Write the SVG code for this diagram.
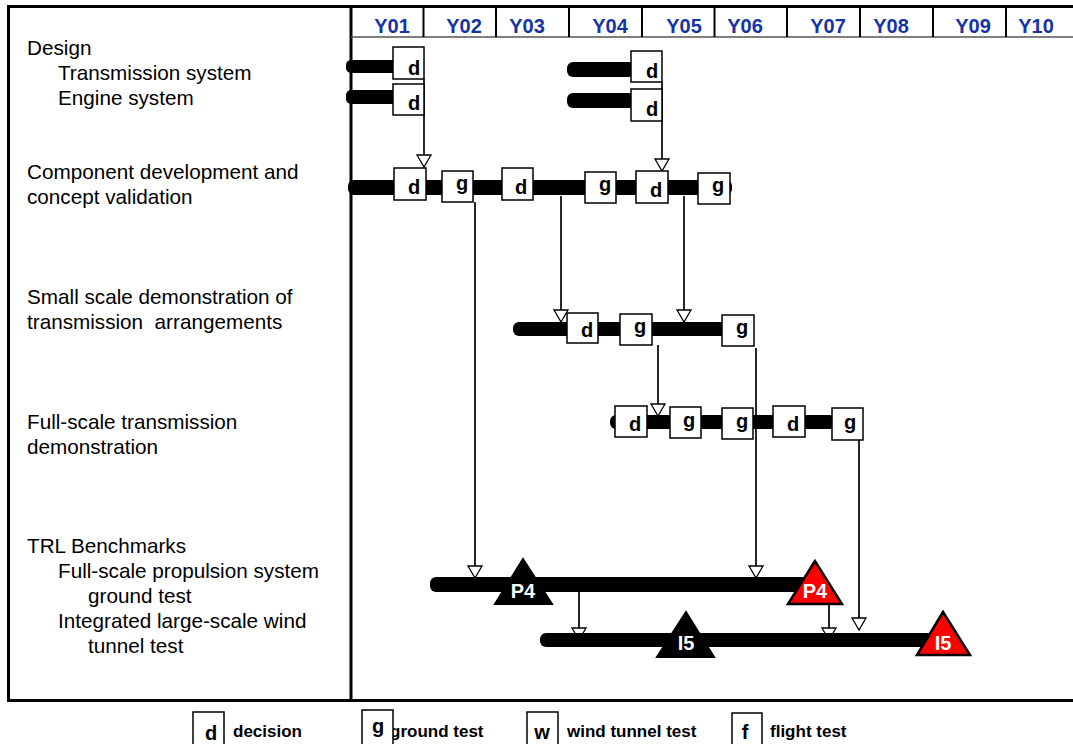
<svg xmlns="http://www.w3.org/2000/svg" width="1073" height="744" viewBox="0 0 1073 744">
<style>
.lbl{font-family:"Liberation Sans",Arial,sans-serif;font-size:20.7px;fill:#000}
.yr{font-family:"Liberation Sans",Arial,sans-serif;font-size:20px;font-weight:bold;fill:#1433a6;text-anchor:middle}
.bx{fill:#fff;stroke:#000;stroke-width:1.5}
.bt{font-family:"Liberation Sans",Arial,sans-serif;font-size:20px;font-weight:bold;fill:#000;text-anchor:middle}
.bar{fill:#000}
.cn{stroke:#000;stroke-width:1.7;fill:none;marker-end:url(#arr)}
.tri{fill:#000;stroke:#000;stroke-width:2}
.tred{fill:#ff0000;stroke:#000;stroke-width:2.5;stroke-linejoin:miter}
.tt{font-family:"Liberation Sans",Arial,sans-serif;font-size:20px;font-weight:bold;fill:#fff;text-anchor:middle}
.lg{font-family:"Liberation Sans",Arial,sans-serif;font-size:17px;font-weight:bold;fill:#000}
</style>
<defs>
<marker id="arr" viewBox="0 0 14 16" markerWidth="14" markerHeight="16" refX="13" refY="8" orient="auto" markerUnits="userSpaceOnUse">
<path d="M1,1 L13,8 L1,15 Z" fill="#fff" stroke="#000" stroke-width="1.3"/>
</marker>
</defs>
<rect width="1073" height="744" fill="#fff"/>
<g id="frame">
<path d="M1073,6.5 H8.5 V700.5 H1073" fill="none" stroke="#000" stroke-width="3"/>
<line x1="351" y1="6" x2="351" y2="701" stroke="#000" stroke-width="3"/>
<line x1="351" y1="37" x2="1073" y2="37" stroke="#555" stroke-width="1.5"/>
<g stroke="#000" stroke-width="2">
<line x1="423.5" y1="6" x2="423.5" y2="37"/>
<line x1="496" y1="6" x2="496" y2="37"/>
<line x1="569" y1="6" x2="569" y2="37"/>
<line x1="642" y1="6" x2="642" y2="37"/>
<line x1="714.5" y1="6" x2="714.5" y2="37"/>
<line x1="787" y1="6" x2="787" y2="37"/>
<line x1="860" y1="6" x2="860" y2="37"/>
<line x1="933" y1="6" x2="933" y2="37"/>
<line x1="1006" y1="6" x2="1006" y2="37"/>
</g>
</g>
<g id="years">
<text class="yr" x="392" y="33">Y01</text>
<text class="yr" x="464" y="33">Y02</text>
<text class="yr" x="527" y="33">Y03</text>
<text class="yr" x="610" y="33">Y04</text>
<text class="yr" x="684" y="33">Y05</text>
<text class="yr" x="745" y="33">Y06</text>
<text class="yr" x="828" y="33">Y07</text>
<text class="yr" x="891" y="33">Y08</text>
<text class="yr" x="973" y="33">Y09</text>
<text class="yr" x="1036" y="33">Y10</text>
</g>
<g id="labels">
<text class="lbl" x="27" y="55">Design</text>
<text class="lbl" x="58" y="80">Transmission system</text>
<text class="lbl" x="58" y="105">Engine system</text>
<text class="lbl" x="27" y="179">Component development and</text>
<text class="lbl" x="27" y="204">concept validation</text>
<text class="lbl" x="27" y="304">Small scale demonstration of</text>
<text class="lbl" x="27" y="329" xml:space="preserve">transmission  arrangements</text>
<text class="lbl" x="27" y="429">Full-scale transmission</text>
<text class="lbl" x="27" y="454">demonstration</text>
<text class="lbl" x="27" y="553">TRL Benchmarks</text>
<text class="lbl" x="58" y="578">Full-scale propulsion system</text>
<text class="lbl" x="88" y="603">ground test</text>
<text class="lbl" x="58" y="628">Integrated large-scale wind</text>
<text class="lbl" x="88" y="653">tunnel test</text>
</g>
<g id="connectors">
<path class="cn" d="M424,79 V167"/>
<path class="cn" d="M662,82 V171"/>
<path class="cn" d="M475,202 V578"/>
<path class="cn" d="M561,196 V322"/>
<path class="cn" d="M684,196 V322"/>
<path class="cn" d="M658,345 V416"/>
<path class="cn" d="M756,348 V578"/>
<path class="cn" d="M859,440 V630"/>
<path class="cn" d="M579,592 V640"/>
<path class="cn" d="M829,604 V640"/>
</g>
<g id="design-transmission">
<rect class="bar" x="346" y="60" width="52" height="13" rx="5"/>
<rect class="bx" x="393" y="47" width="31" height="32"/>
<text class="bt" x="414" y="75">d</text>
</g>
<g id="design-engine">
<rect class="bar" x="346" y="90" width="52" height="14" rx="5"/>
<rect class="bx" x="393" y="84" width="31" height="31"/>
<text class="bt" x="414" y="110">d</text>
</g>
<g id="design-transmission-2">
<rect class="bar" x="567" y="62" width="68" height="15" rx="6"/>
<rect class="bx" x="631" y="51" width="31" height="31"/>
<text class="bt" x="652" y="78">d</text>
</g>
<g id="design-engine-2">
<rect class="bar" x="567" y="93" width="68" height="15" rx="6"/>
<rect class="bx" x="631" y="89" width="31" height="32"/>
<text class="bt" x="652" y="116">d</text>
</g>
<g id="component-row">
<rect class="bar" x="348" y="180" width="384" height="15" rx="6"/>
<rect class="bx" x="394" y="168" width="32" height="32"/>
<text class="bt" x="414" y="194">d</text>
<rect class="bx" x="442" y="171" width="31" height="31"/>
<text class="bt" x="462" y="190">g</text>
<rect class="bx" x="502" y="168" width="31" height="32"/>
<text class="bt" x="521" y="194">d</text>
<rect class="bx" x="585" y="172" width="31" height="31"/>
<text class="bt" x="605" y="191">g</text>
<rect class="bx" x="636" y="171" width="32" height="32"/>
<text class="bt" x="656" y="197">d</text>
<rect class="bx" x="698" y="173" width="32" height="31"/>
<text class="bt" x="718" y="192">g</text>
</g>
<g id="small-scale-row">
<rect class="bar" x="513" y="322" width="222" height="14" rx="6"/>
<rect class="bx" x="567" y="313" width="31" height="30"/>
<text class="bt" x="587" y="337">d</text>
<rect class="bx" x="620" y="314" width="32" height="31"/>
<text class="bt" x="640" y="333">g</text>
<rect class="bx" x="722" y="315" width="32" height="31"/>
<text class="bt" x="742" y="334">g</text>
</g>
<g id="full-scale-row">
<rect class="bar" x="610" y="415" width="250" height="14" rx="6"/>
<rect class="bx" x="615" y="406" width="32" height="31"/>
<text class="bt" x="635" y="431">d</text>
<rect class="bx" x="670" y="407" width="31" height="31"/>
<text class="bt" x="689" y="427">g</text>
<rect class="bx" x="722" y="408" width="31" height="31"/>
<text class="bt" x="742" y="428">g</text>
<rect class="bx" x="773" y="406" width="32" height="31"/>
<text class="bt" x="793" y="431">d</text>
<rect class="bx" x="832" y="408" width="31" height="32"/>
<text class="bt" x="850" y="429">g</text>
</g>
<g id="p4-row">
<rect class="bar" x="430" y="577" width="378" height="15" rx="6"/>
<polygon class="tri" points="523,559 495,604 552,604"/>
<text class="tt" x="523" y="598">P4</text>
<polygon class="tred" points="815,561 788,604 842,604"/>
<text class="tt" x="815" y="598">P4</text>
</g>
<g id="i5-row">
<rect class="bar" x="540" y="633" width="395" height="14" rx="6"/>
<polygon class="tri" points="686,612 657,657 714,657"/>
<text class="tt" x="686" y="650">I5</text>
<polygon class="tred" points="943,612 917,655 970,655"/>
<text class="tt" x="943" y="650">I5</text>
</g>
<g id="legend">
<text class="lg" x="233" y="737">decision</text>
<rect class="bx" x="193" y="712" width="31" height="40"/>
<text class="bt" x="211" y="740">d</text>
<text class="lg" x="390" y="737">ground test</text>
<rect class="bx" x="362" y="710" width="31" height="40"/>
<text class="bt" x="378" y="733">g</text>
<rect class="bx" x="527" y="712" width="31" height="40"/>
<text class="bt" x="542" y="739">w</text>
<text class="lg" x="567" y="737">wind tunnel test</text>
<rect class="bx" x="732" y="713" width="30" height="40"/>
<text class="bt" x="745" y="739">f</text>
<text class="lg" x="770" y="737">flight test</text>
</g>
</svg>
